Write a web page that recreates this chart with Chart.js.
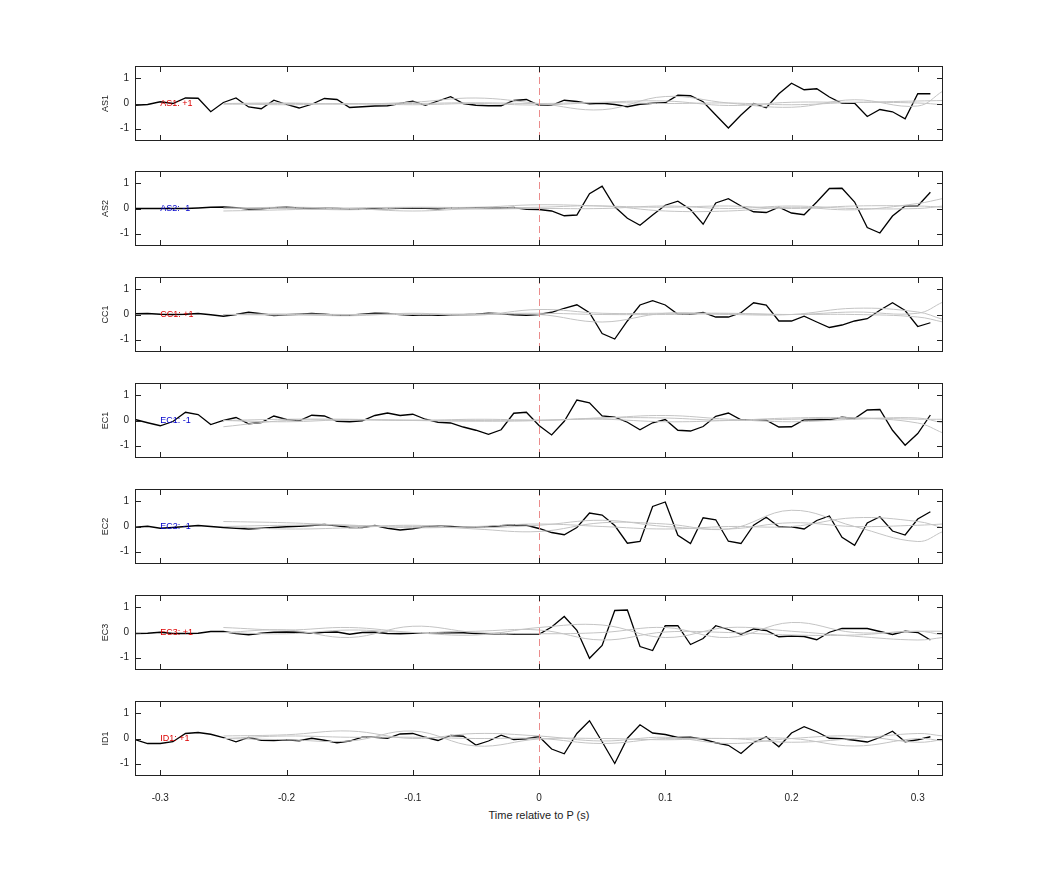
<!DOCTYPE html>
<html><head><meta charset="utf-8">
<script src="https://cdn.jsdelivr.net/npm/chart.js@4/dist/chart.umd.min.js"></script>
<style>body{margin:0;background:#fff;width:1042px;height:875px;position:relative;overflow:hidden;font-family:"Liberation Sans",Arial,sans-serif}
canvas{position:absolute;left:0}
#xt{position:absolute;top:809px;left:439px;width:200px;text-align:center;font-size:11px;color:#222}</style>
</head><body>
<div id="xt">Time relative to P (s)</div>
<script>
const channels = ["AS1","AS2","CC1","EC1","EC2","EC3","ID1"];
const polarity = ["+1","-1","+1","-1","-1","+1","+1"];
const xTicks = [-0.3,-0.2,-0.1,0,0.1,0.2,0.3];
const yTicks = [-1,0,1];
const as1 = [-0.07,-0.04,0.07,0,0.22,0.21,-0.33,0.04,0.22,-0.14,-0.21,0.13,-0.04,-0.18,-0.03,0.2,0.16,-0.16,-0.13,-0.1,-0.09,0,0.09,-0.07,0.1,0.27,0,-0.07,-0.09,-0.09,0.12,0.16,-0.07,-0.07,0.13,0.08,-0.01,0.01,-0.04,-0.13,-0.03,0.01,0.03,0.33,0.31,0.07,-0.46,-0.98,-0.46,0,-0.17,0.39,0.81,0.55,0.59,0.26,0.01,0.01,-0.52,-0.24,-0.33,-0.61,0.39,0.39];
const as2 = [0,0,0,0,0,0.02,0.05,0.06,0.03,-0.02,-0.01,0.03,0.05,0.02,0,0.01,0,-0.02,-0.03,-0.01,0,0.01,0.02,0.01,-0.01,0.02,0.03,0.03,0.01,0.02,0.04,-0.03,-0.04,-0.1,-0.29,-0.26,0.59,0.89,0.07,-0.39,-0.67,-0.26,0.13,0.29,-0.04,-0.63,0.22,0.39,0.1,-0.13,-0.16,0.05,-0.18,-0.25,0.26,0.8,0.81,0.26,-0.76,-0.98,-0.3,0.1,0.1,0.65];
const cc1 = [0.03,0.04,0.01,0,0.01,0.04,-0.01,-0.07,0,0.09,0.03,-0.04,-0.01,0.01,0.04,0.01,-0.03,-0.03,0.01,0.05,0.04,0,-0.03,-0.01,-0.03,-0.01,-0.01,0.01,0.05,0.03,-0.01,-0.03,0,0.09,0.25,0.39,0.07,-0.76,-0.98,-0.26,0.38,0.55,0.38,0.01,0.01,0.08,-0.1,-0.1,0.07,0.47,0.38,-0.26,-0.26,-0.07,-0.3,-0.52,-0.42,-0.26,-0.17,0.17,0.47,0.16,-0.48,-0.33];
const ec1 = [0.04,-0.09,-0.21,-0.04,0.33,0.24,-0.16,0,0.12,-0.13,-0.08,0.18,0.04,-0.01,0.21,0.18,-0.03,-0.05,-0.01,0.2,0.3,0.2,0.25,0.05,-0.07,-0.1,-0.26,-0.39,-0.55,-0.37,0.29,0.33,-0.2,-0.58,-0.03,0.82,0.71,0.18,0.13,-0.07,-0.37,-0.09,0.04,-0.39,-0.42,-0.24,0.17,0.3,0.03,0.01,0.01,-0.26,-0.25,0.03,0.03,0.03,0.13,0.08,0.42,0.44,-0.39,-0.99,-0.52,0.22];
const ec2 = [-0.03,0.01,-0.07,-0.04,0,0.04,0,-0.04,-0.07,-0.1,-0.07,-0.04,-0.01,0.01,0.04,0.08,0.03,-0.04,-0.04,0.04,-0.07,-0.14,-0.09,0,0.01,0,-0.03,-0.03,-0.01,0.03,0.07,0.05,-0.08,-0.24,-0.33,-0.04,0.54,0.46,0.04,-0.67,-0.6,0.8,0.98,-0.35,-0.68,0.35,0.27,-0.59,-0.68,0.05,0.37,-0.01,-0.01,-0.1,0.24,0.42,-0.43,-0.75,0.14,0.39,-0.18,-0.34,0.3,0.59];
const ec3 = [-0.04,-0.03,0.01,-0.04,-0.04,-0.03,0.04,0.04,-0.04,-0.09,-0.03,0.01,0.02,0.01,-0.03,0.01,0.02,-0.07,0,0.01,-0.04,-0.05,-0.03,-0.01,-0.01,0,-0.01,-0.04,-0.05,-0.04,-0.07,-0.07,-0.07,0.22,0.64,0.09,-1.03,-0.52,0.88,0.9,-0.56,-0.72,0.27,0.27,-0.48,-0.24,0.27,0.12,-0.07,0.14,0.08,-0.17,-0.14,-0.16,-0.29,0.01,0.16,0.16,0.16,0.04,-0.08,0.05,0,-0.3];
const id1 = [-0.04,-0.2,-0.2,-0.13,0.2,0.24,0.17,0.04,-0.13,0.04,-0.07,-0.08,-0.05,-0.09,0.01,-0.07,-0.17,-0.1,0.05,0.05,0.01,0.18,0.2,0.05,-0.08,0.12,0.09,-0.26,-0.1,0.13,-0.04,-0.01,0.08,-0.42,-0.61,0.2,0.71,-0.13,-1.0,0.01,0.55,0.22,0.16,0.04,0.05,-0.03,-0.17,-0.27,-0.6,-0.16,0.07,-0.33,0.22,0.47,0.27,0.01,-0.01,-0.07,-0.14,0.04,0.29,-0.13,-0.05,0.07];
const blackSeries = [as1,as2,cc1,ec1,ec2,ec3,id1];
const greyTimes = [-0.25,-0.2,-0.15,-0.1,-0.05,0,0.05,0.1,0.15,0.2,0.25,0.3,0.32];
const greySeries = [
 [[0,0.02,-0.02,0.05,0.22,0,-0.25,0.28,0.02,-0.15,0.15,-0.1,0.5],[0,-0.05,0,-0.05,0,-0.06,0.05,0.1,-0.08,0.05,0.05,0.1,0.12],[-0.03,0,-0.02,0,0.03,0,0.04,0,0.02,-0.05,0.04,0.02,-0.05]],
 [[-0.1,-0.05,0.02,0.05,0.05,0.15,0.1,0.05,0.1,0,0.1,0.1,0.05],[0,0.05,0,-0.1,0,0.05,0.1,-0.1,-0.1,0.05,-0.05,0.2,0.4],[0.02,0,-0.05,0.03,-0.02,0,0,0.1,0,0.1,0,0,0.1]],
 [[0,0,-0.05,0.05,-0.03,0.2,0.05,0.05,0.05,0,0.1,0.05,0.5],[0,-0.02,0,0.02,0,0,-0.3,0.05,0,0,0.25,0.1,-0.2],[0,0.02,0,0,0.02,0.05,0,0,0.03,0,0,-0.1,-0.3]],
 [[-0.25,0,0.02,0.02,0,0,0.1,0.2,0.05,-0.05,0.05,0.1,-0.1],[0,0.05,0.05,0,0.05,0.02,0.05,-0.05,0,0.1,0.1,-0.1,-0.5],[0,-0.05,0.03,0,-0.03,0,0.1,0.1,0,0.05,0.1,0.05,0.05]],
 [[0.2,0.15,0.05,0,-0.05,0.05,0.25,0,-0.1,0.15,0,0.05,0.1],[0,-0.1,-0.05,0.05,-0.1,-0.2,0.15,0.1,-0.1,0.65,0,-0.6,-0.2],[0,0.05,0.05,-0.05,0,0.1,0,-0.1,0,0,0.35,0.2,-0.05]],
 [[0.2,0.1,0.2,0,-0.1,0.2,0.3,-0.2,0.2,0.05,-0.15,-0.3,-0.2],[0,0.1,-0.2,0.25,0,-0.05,0,0.2,-0.2,0.4,0,0.05,0.05],[0,-0.05,0.1,0,0.05,0.1,-0.3,0.02,0,-0.1,-0.1,0.05,-0.1]],
 [[0.1,0.15,0.3,0,0.2,0.1,-0.1,0.05,-0.2,0,0.1,-0.15,-0.05],[0,-0.05,-0.1,0.3,-0.3,-0.02,0,-0.05,0,-0.15,0,0.2,0.1],[0,0.1,0.05,0.05,0,0,-0.2,0,0,0,-0.3,0,-0.1]]
];
const times = [];
for (let i = 0; i < 64; i++) times.push(Math.round((-0.32 + i*0.01)*100)/100);

const panelTops = [66,171,277,383,489,595,701];
const PH = 75;

const framePlugin = {
  id:'frame',
  afterDatasetsDraw(chart, args, o){
    const ctx = chart.ctx, a = chart.chartArea, xs = chart.scales.x, ys = chart.scales.y;
    ctx.save();
    ctx.strokeStyle = 'rgb(235,140,140)'; ctx.lineWidth = 1; ctx.setLineDash([7,4]);
    const x0 = Math.round(xs.getPixelForValue(0))+0.5;
    ctx.beginPath(); ctx.moveTo(x0,a.top); ctx.lineTo(x0,a.bottom); ctx.stroke();
    ctx.setLineDash([]);
    ctx.strokeStyle = '#222'; ctx.lineWidth = 1;
    ctx.strokeRect(a.left+0.5,a.top+0.5,a.right-a.left-1,a.bottom-a.top-1);
    ctx.beginPath();
    xTicks.forEach(v=>{const p=Math.round(xs.getPixelForValue(v))+0.5; ctx.moveTo(p,a.top); ctx.lineTo(p,a.top+6); ctx.moveTo(p,a.bottom); ctx.lineTo(p,a.bottom-6);});
    yTicks.forEach(v=>{const p=Math.round(ys.getPixelForValue(v))+0.5; ctx.moveTo(a.left,p); ctx.lineTo(a.left+6,p); ctx.moveTo(a.right,p); ctx.lineTo(a.right-6,p);});
    ctx.stroke();
    ctx.font = '9px "Liberation Sans", Arial'; ctx.textBaseline='middle'; ctx.textAlign='left';
    ctx.fillStyle = o.pol === '+1' ? '#d00' : '#00c';
    ctx.fillText(o.name + ': ' + o.pol, xs.getPixelForValue(-0.3), ys.getPixelForValue(0));
    ctx.fillStyle = '#222';
    ctx.translate(106, (a.top+a.bottom)/2); ctx.rotate(-Math.PI/2); ctx.textAlign='center';
    ctx.fillText(o.name, 0, 0);
    ctx.restore();
  }
};

function build(k, ch){
  const name = channels[k];
  const last = k === channels.length-1;
  const H = last ? 30 : 4;
  const cv = document.createElement('canvas');
  cv.width = 1042; cv.height = ch;
  cv.style.width = '1042px'; cv.style.height = ch+'px'; cv.style.top='0px';
  document.body.appendChild(cv);
  const ds = greySeries[k].map(g => ({data: greyTimes.map((t,i)=>({x:t,y:g[i]})), borderColor:'#c4c4c4', borderWidth:1, pointRadius:0, tension:0.4}));
  ds.push({data: times.map((t,i)=>({x:t,y:blackSeries[k][i]})), borderColor:'#000', borderWidth:1.3, pointRadius:0, tension:0});
  const chart = new Chart(cv, {
    type:'line',
    data:{datasets:ds},
    options:{
      responsive:false, animation:false, devicePixelRatio:1,
      layout:{padding:{top:0,right:99,left:0,bottom:0}},
      plugins:{legend:{display:false},tooltip:{enabled:false},frame:{name:name,pol:polarity[k]}},
      scales:{
        x:{type:'linear',min:-0.32,max:0.32,
           afterBuildTicks:s=>{s.ticks=xTicks.map(v=>({value:v}));},
           afterFit:s=>{s.height=H;},
           grid:{display:false},border:{display:false},
           ticks:{display:last,color:'#222',font:{size:10,family:'"Liberation Sans", Arial'},padding:8,maxRotation:0,callback:v=>String(v)}},
        y:{min:-1.5,max:1.5,
           afterBuildTicks:s=>{s.ticks=yTicks.map(v=>({value:v}));},
           afterFit:s=>{s.width=135;},
           grid:{display:false},border:{display:false},
           ticks:{color:'#222',font:{size:10,family:'"Liberation Sans", Arial'},padding:-2,callback:v=>String(v)}}
      }
    },
    plugins:[framePlugin]
  });
  return {cv, chart};
}

channels.forEach((name, k) => {
  const H = k === channels.length-1 ? 30 : 4;
  let ch = 100 + H;
  let r = build(k, ch);
  const diff = PH - (r.chart.chartArea.bottom - r.chart.chartArea.top);
  if (Math.abs(diff) > 0.01) {
    r.chart.destroy(); r.cv.remove();
    ch = Math.round(ch + diff);
    r = build(k, ch);
  }
  r.cv.style.top = (panelTops[k] - r.chart.chartArea.top) + 'px';
});
</script>
</body></html>
